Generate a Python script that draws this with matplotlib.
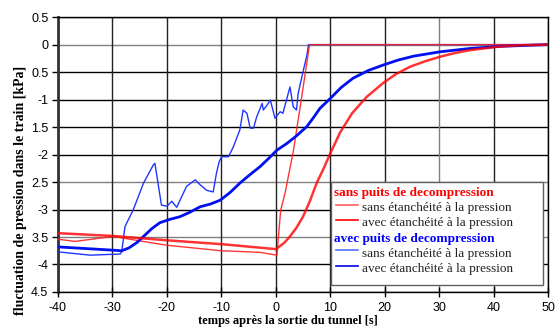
import matplotlib
matplotlib.use("Agg")
import matplotlib.pyplot as plt
from matplotlib.lines import Line2D
from matplotlib.patches import Rectangle

# Data (time [s], pressure [kPa])
t_red_thin = [-40, -36.9, -33, -29.8, -25, -20, -15, -10, -5, -2.9, 0.2, 0.9, 1.7, 3.2, 4.45, 6.2, 50]
p_red_thin = [-3.54, -3.58, -3.53, -3.49, -3.57, -3.65, -3.70, -3.75, -3.77, -3.78, -3.83, -3.01, -2.70, -1.95, -1.15, 0.0, 0.0]

t_red_thick = [-40, -30, -20, -10, 0, 0.3, 1.5, 2.6, 3.8, 5, 6.2, 7.5, 8.8, 10, 11.8, 14, 16.7, 19.7, 22, 24.7, 27.5, 30.2, 33, 35.7, 40.6, 45, 50]
p_red_thick = [-3.43, -3.48, -3.56, -3.63, -3.72, -3.70, -3.61, -3.49, -3.33, -3.13, -2.86, -2.52, -2.25, -1.98, -1.60, -1.25, -0.95, -0.70, -0.54, -0.40, -0.30, -0.22, -0.15, -0.10, -0.04, -0.01, 0.0]

t_blue_thin = [-40, -34.1, -28.6, -28.3, -27.7, -26.2, -24.3, -22.5, -22.2, -21, -20, -19.1, -18.2,
               -16.4, -14.8, -13.9, -12.7, -11.5, -10.9, -10.4, -9.97, -8.7, -7.8, -6.6, -6.0, -5.3,
               -4.7, -4.1, -3.5, -2.5, -2.3, -1.6, -1.0, -0.15, 0.8, 1.3, 2.6, 3.2, 3.8, 4.1, 5.1, 5.7, 6.0, 50]
p_blue_thin = [-3.77, -3.83, -3.81, -3.77, -3.31, -3.01, -2.52, -2.19, -2.16, -2.92, -2.94, -2.85, -2.96,
               -2.58, -2.46, -2.55, -2.65, -2.68, -2.34, -2.13, -2.04, -2.04, -1.86, -1.55, -1.19, -1.25,
               -1.52, -1.52, -1.31, -1.07, -1.19, -1.10, -1.01, -1.34, -1.22, -1.25, -0.77, -1.13, -1.19, -0.89, -0.45, -0.20, 0.0, 0.0]

t_blue_thick = [-40, -29.8, -28.3, -27, -25.5, -24.3, -22.8, -21.3, -19.5, -17.6, -15.8, -13.9, -12,
                -10.2, -8.4, -6.6, -4.8, -2.9, -1.3, 0.2, 2, 3.8, 5.7, 6.9, 8.1, 10, 12, 14.2, 17, 19.75,
                22.5, 25.3, 30.2, 35.7, 41.5, 50]
p_blue_thick = [-3.68, -3.74, -3.75, -3.70, -3.60, -3.49, -3.35, -3.24, -3.18, -3.13, -3.05, -2.95, -2.90,
                -2.83, -2.69, -2.52, -2.37, -2.22, -2.07, -1.92, -1.80, -1.66, -1.49, -1.33, -1.16, -0.98,
                -0.78, -0.61, -0.47, -0.37, -0.28, -0.21, -0.13, -0.07, -0.03, 0.0]

x_ticks = [-40, -30, -20, -10, 0, 10, 20, 30, 40, 50]
y_ticks = [0.5, 0, -0.5, -1, -1.5, -2, -2.5, -3, -3.5, -4, -4.5]
y_ticklabels = ['0.5', '0', '0.5', '-1', '1.5', '-2', '2.5', '-3', '3.5', '-4', '4.5']

fig = plt.figure(figsize=(5.55, 3.36), dpi=100)
ax = fig.add_axes([0.1045, 0.131, 0.883, 0.818])
ax.set_xlim(-40, 50)
ax.set_ylim(-4.5, 0.5)

# grid
gray_h = {0, -2.5, -3.5}
for y in y_ticks:
    ax.axhline(y, color=('#808080' if y in gray_h else 'black'), lw=1.0, zorder=1)
for x in x_ticks:
    ax.axvline(x, color=('#808080' if x in (30,) else '#222222'), lw=1.0, zorder=1)

ax.plot(t_blue_thin, p_blue_thin, color='#2035ff', lw=1.0, zorder=3)
ax.plot(t_blue_thick, p_blue_thick, color='#0010ee', lw=2.0, zorder=4)
ax.plot(t_red_thin, p_red_thin, color='#ff2020', lw=1.0, zorder=3, alpha=0.9)
ax.plot(t_red_thick, p_red_thick, color='#ff0000', lw=1.8, zorder=5, alpha=0.8)

ax.set_xticks(x_ticks)
ax.set_xticklabels([str(v) for v in x_ticks], fontsize=9, family='Liberation Sans')
ax.set_yticks(y_ticks)
ax.set_yticklabels(y_ticklabels, fontsize=9, family='Liberation Sans')
ax.tick_params(axis='x', direction='inout', length=7, width=1, pad=4)
ax.tick_params(axis='y', direction='out', length=4, width=1, pad=3)
for s in ['top', 'right', 'bottom']:
    ax.spines[s].set_color('black')
    ax.spines[s].set_linewidth(1.0)
ax.spines['left'].set_color('#333333')
ax.spines['left'].set_linewidth(2.0)

ax.set_xlabel('temps après la sortie du tunnel [s]', family='Liberation Serif',
              fontweight='bold', fontsize=9)
ax.xaxis.set_label_coords(0.47, -0.085)
ax.set_ylabel('fluctuation de pression dans le train [kPa]', family='Liberation Serif',
              fontweight='bold', fontsize=10, va='center')
ax.yaxis.set_label_coords(-0.077, 0.37)

# legend (manual, axes coordinates)
lx0, ly0, lw_, lh_ = 0.557, 0.025, 0.433, 0.376
ax.add_patch(Rectangle((lx0, ly0), lw_, lh_, transform=ax.transAxes, facecolor='white',
                       edgecolor='#606060', lw=1.0, zorder=10))
rows = [
    ('sans puits de decompression', 'red', None),
    ('sans étanchéité à la pression', None, '#ff6060'),
    ('avec étanchéité à la pression', None, '#ff0000'),
    ('avec puits de decompression', 'blue', None),
    ('sans étanchéité à la pression', None, '#5070ff'),
    ('avec étanchéité à la pression', None, '#0000ee'),
]
y = ly0 + lh_ - 0.04
dy = 0.0555
for text, hcol, lcol in rows:
    if hcol is not None:
        ax.text(lx0 + 0.006, y, text, transform=ax.transAxes, color=hcol, fontweight='bold',
                family='Liberation Serif', fontsize=9.5, va='center', ha='left', zorder=11)
    else:
        ax.add_line(Line2D([lx0 + 0.01, lx0 + 0.055], [y + 0.012, y + 0.012], transform=ax.transAxes,
                           color=lcol, lw=1.2, zorder=11))
        ax.text(lx0 + 0.063, y, text, transform=ax.transAxes, color='#222222',
                family='Liberation Serif', fontsize=9.5, va='center', ha='left', zorder=11)
    y -= dy

fig.savefig('out.png', dpi=100)
